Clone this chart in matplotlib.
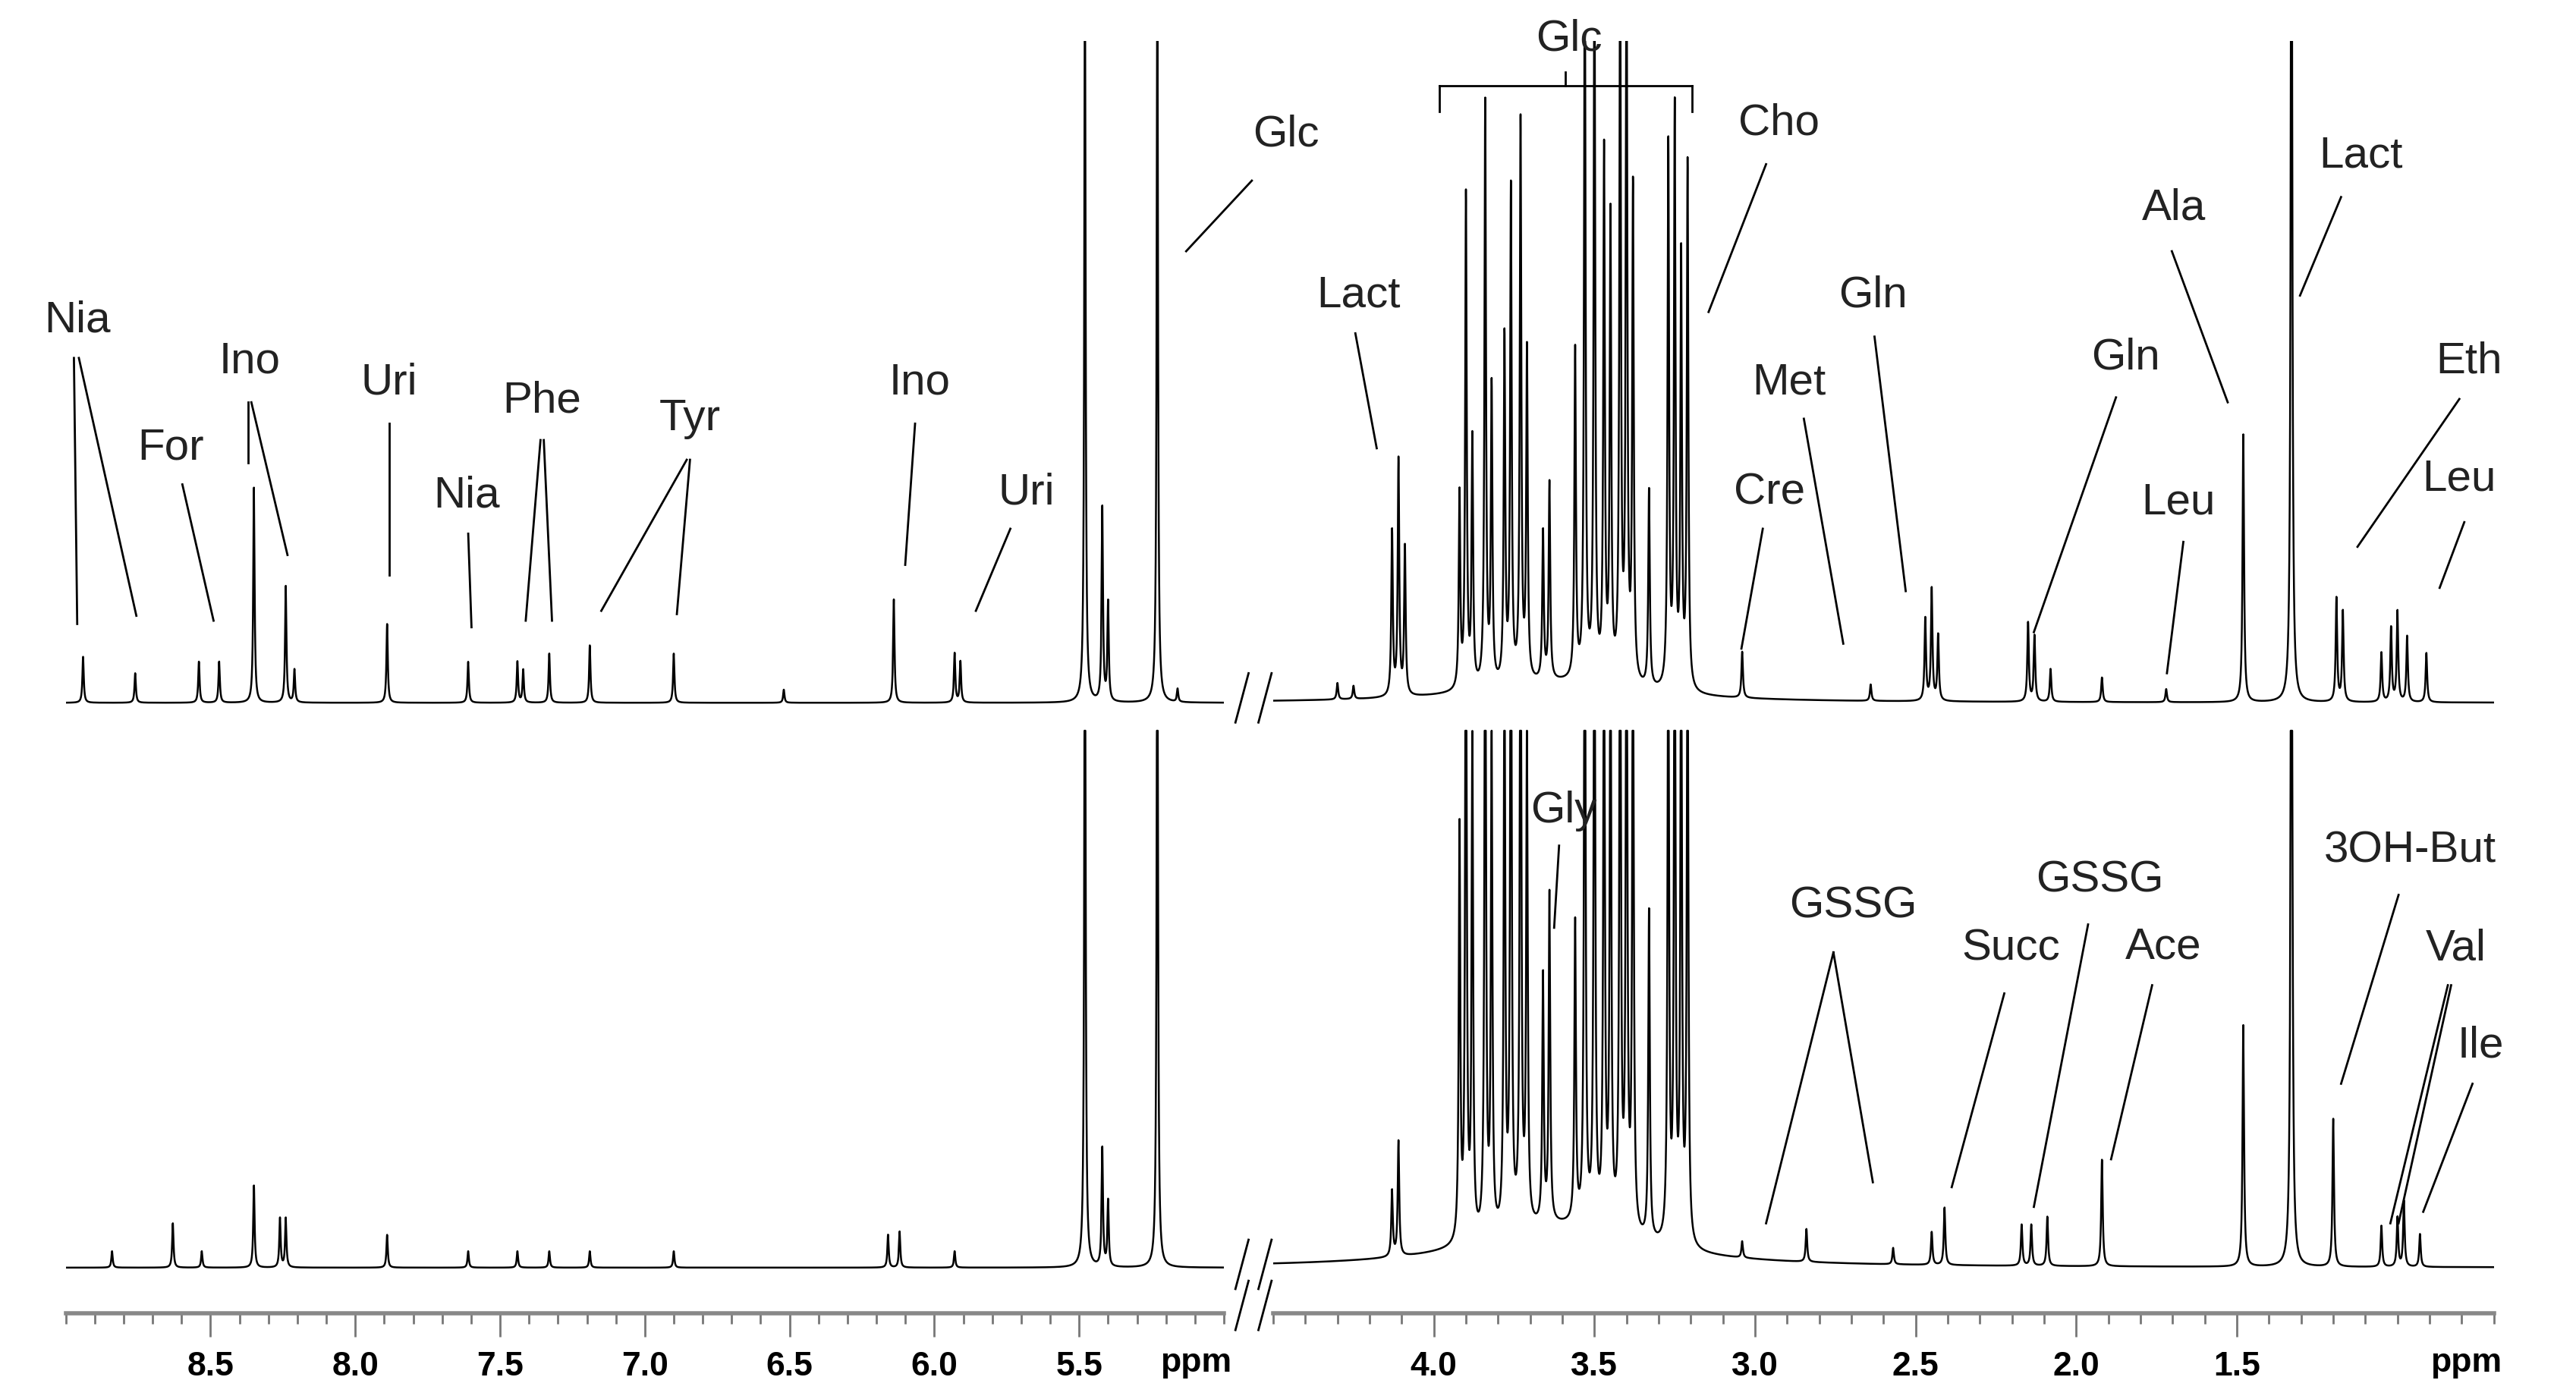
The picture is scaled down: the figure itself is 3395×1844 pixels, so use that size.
import numpy as np
import matplotlib
matplotlib.use("Agg")
import matplotlib.pyplot as plt
from matplotlib.lines import Line2D

plt.rcParams['font.family'] = ['Liberation Sans', 'DejaVu Sans']

# ---- data: peak positions (ppm) and heights (arbitrary units) ----
top_left_ppm = [8.94, 8.76, 8.54, 8.47, 8.35, 8.24, 8.21, 7.89, 7.61, 7.44, 7.42, 7.33, 7.19, 6.90, 6.52, 6.14, 5.93, 5.91, 5.48, 5.42, 5.40, 5.23, 5.16]
top_left_h   = [28, 18, 25, 25, 131, 71, 20, 48, 25, 25, 20, 30, 35, 30, 8, 63, 30, 25, 450, 118, 60, 450, 8]
bot_left_ppm = [8.84, 8.63, 8.53, 8.35, 8.26, 8.24, 7.89, 7.61, 7.44, 7.33, 7.19, 6.90, 6.16, 6.12, 5.93, 5.48, 5.42, 5.40, 5.23]
bot_left_h   = [10, 27, 10, 50, 30, 30, 20, 10, 10, 10, 10, 10, 20, 22, 10, 450, 72, 40, 450]

top_right_ppm = [4.30, 4.25, 4.13, 4.11, 4.09, 3.92, 3.90, 3.88, 3.84, 3.82, 3.78, 3.76, 3.73, 3.71, 3.66, 3.64, 3.56, 3.53, 3.50,
                 3.47, 3.45, 3.42, 3.40, 3.38, 3.33, 3.27, 3.25, 3.23, 3.21, 3.04, 2.64, 2.47, 2.45, 2.43, 2.15, 2.13, 2.08,
                 1.92, 1.72, 1.48, 1.33, 1.19, 1.17, 1.05, 1.02, 1.00, 0.97, 0.91]
top_right_h   = [10, 8, 100, 143, 90, 118, 300, 150, 355, 180, 210, 300, 340, 200, 90, 120, 200, 450, 450,
                 320, 280, 450, 450, 300, 120, 330, 350, 260, 320, 28, 10, 50, 68, 40, 48, 40, 20,
                 15, 8, 163, 600, 63, 55, 30, 45, 55, 40, 30]
bot_right_ppm = [4.13, 4.11, 3.92, 3.90, 3.88, 3.84, 3.82, 3.78, 3.76, 3.73, 3.71, 3.66, 3.64, 3.56, 3.53, 3.50,
                 3.47, 3.45, 3.42, 3.40, 3.38, 3.33, 3.27, 3.25, 3.23, 3.21, 3.04, 2.84, 2.57, 2.45, 2.41, 2.17, 2.14, 2.09,
                 1.92, 1.48, 1.33, 1.20, 1.05, 1.00, 0.98, 0.93]
bot_right_h   = [40, 70, 250, 450, 300, 450, 300, 350, 450, 450, 300, 150, 200, 182, 450, 450,
                 400, 380, 450, 450, 400, 200, 400, 450, 400, 400, 10, 20, 10, 20, 35, 25, 25, 30,
                 65, 147, 600, 90, 25, 30, 40, 20]

left_ticks = [8.5, 8.0, 7.5, 7.0, 6.5, 6.0, 5.5]
right_ticks = [4.0, 3.5, 3.0, 2.5, 2.0, 1.5]

W, H = 1568.0, 852.0
fig = plt.figure(figsize=(33.95, 18.44), dpi=100)

def spec(x, ppm, h, w=0.0028):
    y = np.zeros_like(x)
    for p, a in zip(ppm, h):
        y += a / (1 + ((x - p) / w) ** 2)
    return y

def fx(x): return x / W
def fy(y): return 1 - y / H

TOP, BOT = 372, 28   # baselines (axis units)
panels = [
    (40, 745, 9.0, 5.0, top_left_ppm, top_left_h, bot_left_ppm, bot_left_h, left_ticks, False),
    (775, 1518, 4.5, 0.7, top_right_ppm, top_right_h, bot_right_ppm, bot_right_h, right_ticks, True),
]
for x0, x1, p0, p1, tp, th, bp, bh, ticks, hump in panels:
    ax = fig.add_axes([fx(x0), fy(800), fx(x1) - fx(x0), fy(25) - fy(800)])
    x = np.linspace(p1, p0, 16000)
    yt = spec(x, tp, th)
    yb = spec(x, bp, bh)
    if hump:
        yt += 12 / (1 + ((x - 3.6) / 0.3) ** 2)
        yb += 25 / (1 + ((x - 3.6) / 0.3) ** 2)
    ax.plot(x, TOP + yt, color="black", lw=1.8)
    ax.plot(x, BOT + np.minimum(yb, 327), color="black", lw=1.8)
    ax.set_xlim(p0, p1)
    ax.set_ylim(0, 775)
    for s in ["top", "left", "right"]:
        ax.spines[s].set_visible(False)
    ax.spines["bottom"].set_color("#888888")
    ax.spines["bottom"].set_linewidth(4)
    ax.set_yticks([])
    ax.set_xticks(ticks)
    ax.set_xticks(np.arange(np.ceil(p1 * 10) / 10, p0 + 0.001, 0.1), minor=True)
    ax.tick_params(axis="x", which="major", length=22, width=2, color="#777777", labelsize=32, pad=14)
    ax.tick_params(axis="x", which="minor", length=10, width=2, color="#777777")
    for t in ax.get_xticklabels():
        t.set_fontweight("bold")
        t.set_family(["Liberation Sans Narrow", "Liberation Sans"])
    fig.text(fx(x1 - 17), fy(830), "ppm", ha="center", va="center", fontsize=32, fontweight="bold",
             family=["Liberation Sans Narrow", "Liberation Sans"])

# break marks
for yb in [(410, 440), (755, 785), (780, 810)]:
    for dx in (0, 14):
        fig.add_artist(Line2D([fx(752 + dx), fx(760 + dx)], [fy(yb[1]), fy(yb[0])], color="black", lw=2))

labels = [
    ("Nia", 47, 195, [(45, 218, 47, 380), (48, 218, 83, 375)]),
    ("For", 104, 273, [(111, 295, 130, 378)]),
    ("Ino", 152, 220, [(151, 245, 151, 282), (153, 245, 175, 338)]),
    ("Uri", 237, 233, [(237, 258, 237, 350)]),
    ("Nia", 284, 302, [(285, 325, 287, 382)]),
    ("Phe", 330, 244, [(329, 268, 320, 378), (331, 268, 336, 378)]),
    ("Tyr", 420, 255, [(418, 280, 366, 372), (420, 280, 412, 374)]),
    ("Ino", 560, 233, [(557, 258, 551, 344)]),
    ("Uri", 625, 300, [(615, 322, 594, 372)]),
    ("Glc", 783, 82, [(762, 110, 722, 153)]),
    ("Lact", 827, 180, [(825, 203, 838, 273)]),
    ("Glc", 955, 24, [(876, 68, 876, 52), (876, 52, 1030, 52), (1030, 52, 1030, 68), (953, 52, 953, 44)]),
    ("Cho", 1083, 75, [(1075, 100, 1040, 190)]),
    ("Cre", 1077, 300, [(1073, 322, 1060, 395)]),
    ("Met", 1089, 233, [(1098, 255, 1122, 392)]),
    ("Gln", 1140, 180, [(1141, 205, 1160, 360)]),
    ("Gln", 1294, 218, [(1288, 242, 1238, 385)]),
    ("Leu", 1326, 306, [(1329, 330, 1319, 410)]),
    ("Ala", 1323, 127, [(1322, 153, 1356, 245)]),
    ("Lact", 1437, 95, [(1425, 120, 1400, 180)]),
    ("Eth", 1503, 220, [(1497, 243, 1435, 333)]),
    ("Leu", 1497, 292, [(1500, 318, 1485, 358)]),
    ("Gly", 952, 494, [(949, 515, 946, 565)]),
    ("GSSG", 1128, 552, [(1116, 580, 1075, 745), (1116, 580, 1140, 720)]),
    ("Succ", 1224, 578, [(1220, 605, 1188, 723)]),
    ("GSSG", 1278, 536, [(1271, 563, 1238, 735)]),
    ("Ace", 1317, 577, [(1310, 600, 1285, 706)]),
    ("3OH-But", 1467, 518, [(1460, 545, 1425, 660)]),
    ("Val", 1495, 578, [(1490, 600, 1455, 745), (1492, 600, 1460, 745)]),
    ("Ile", 1510, 637, [(1505, 660, 1475, 738)]),
]
for txt, x, y, lines in labels:
    fig.text(fx(x), fy(y), txt, ha="center", va="center", fontsize=42, color="#222222")
    for a, b, c, d in lines:
        fig.add_artist(Line2D([fx(a), fx(c)], [fy(b), fy(d)], color="black", lw=2))

fig.savefig("out.png", dpi=100, facecolor="white")
